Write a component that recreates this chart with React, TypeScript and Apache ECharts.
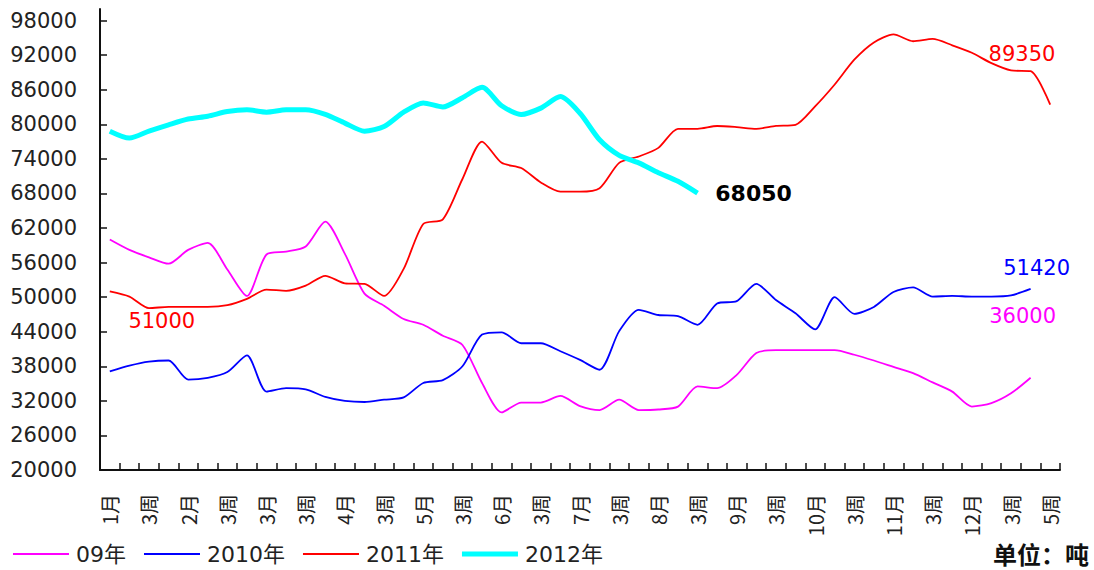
import React, { useEffect, useRef } from "react";
import * as echarts from "echarts";

const categories = [
  "1月", "2周", "3周", "4周", "2月", "2周", "3周", "4周",
  "3月", "2周", "3周", "4周", "4月", "2周", "3周", "4周",
  "5月", "2周", "3周", "4周", "6月", "2周", "3周", "4周",
  "7月", "2周", "3周", "4周", "8月", "2周", "3周", "4周",
  "9月", "2周", "3周", "4周", "10月", "2周", "3周", "4周",
  "11月", "2周", "3周", "4周", "12月", "2周", "3周", "4周", "5周",
];

const yTicks = [20000, 26000, 32000, 38000, 44000, 50000, 56000, 62000, 68000, 74000, 80000, 86000, 92000, 98000];

const seriesNames = ["09年", "2010年", "2011年", "2012年"];

const s2009 = [
  60000, 58200, 56900, 55800, 58200, 59400, 54800, 50200,
  57400, 57900, 58800, 63100, 57500, 50600, 48500, 46200,
  45200, 43300, 41700, 35100, 30000, 31700, 31700, 32850,
  31100, 30400, 32200, 30400, 30500, 31000, 34500, 34200,
  36500, 40300, 40800, 40800, 40800, 40800, 40000, 39000,
  37900, 36800, 35200, 33600, 31000, 31600, 33300, 36000, null,
];

const s2010 = [
  37100, 38100, 38800, 39000, 35700, 36000, 37000, 39900,
  33600, 34200, 34000, 32700, 32000, 31800, 32200, 32600,
  35100, 35600, 38000, 43500, 43900, 42000, 42000, 40600,
  39100, 37400, 44100, 47800, 46900, 46700, 45200, 48900,
  49300, 52300, 49500, 47200, 44400, 50000, 47100, 48300,
  50900, 51700, 50100, 50200, 50100, 50100, 50300, 51420, null,
];

const s2011 = [
  51000, 50100, 48100, 48300, 48300, 48300, 48600, 49700,
  51300, 51100, 52000, 53700, 52400, 52300, 50200, 54900,
  62700, 63500, 70500, 77000, 73300, 72400, 69900, 68300,
  68300, 68900, 73300, 74400, 75900, 79200, 79200, 79700,
  79500, 79200, 79700, 79900, 83100, 86900, 91200, 94200,
  95600, 94400, 94800, 93700, 92400, 90600, 89350, 89200, 83400,
];

const s2012 = [
  78800, 77600, 78800, 79900, 80900, 81400, 82200, 82500,
  82100, 82500, 82500, 81700, 80200, 78800, 79600, 82100,
  83700, 83000, 84600, 86400, 83200, 81700, 82800, 84800,
  81900, 77300, 74600, 73300, 71600, 70100, 68050,
];

const colors = ["#FF00FF", "#0000FF", "#FF0000", "#00FFFF"];

const numFont = "DejaVu Sans";
const cjkFont = "'Noto Sans CJK SC', 'DejaVu Sans', sans-serif";
const legendFont = "'DejaVu Sans', 'Noto Sans CJK SC', sans-serif";

function mark(idx: number, value: number, color: string, offset: number[], bold = false, size = 21) {
  return {
    coord: [idx, value],
    value,
    label: {
      show: true,
      position: "inside",
      offset,
      formatter: "{c}",
      color,
      fontSize: size,
      fontFamily: numFont,
      fontWeight: bold ? "bold" : "normal",
    },
  };
}

export default function App() {
  const ref = useRef<HTMLDivElement>(null);

  useEffect(() => {
    if (!ref.current) return;
    const chart = echarts.init(ref.current, undefined, { renderer: "svg" });
    const lineSeries = (name: string, data: any[], color: string, width: number, marks: any[]) => ({
      name,
      type: "line",
      data,
      smooth: 0.25,
      symbol: "none",
      showSymbol: false,
      connectNulls: false,
      lineStyle: { color, width },
      itemStyle: { color },
      markPoint: {
        symbol: "circle",
        symbolSize: 0,
        silent: true,
        data: marks,
      },
    });

    const thinIcon = "path://M0,0H56V2H0Z";
    const thickIcon = "path://M0,0H56V5H0Z";

    chart.setOption({
      animation: false,
      backgroundColor: "#ffffff",
      grid: { left: 100, right: 34, top: 9, bottom: 100, containLabel: false },
      legend: {
        left: 13,
        top: 543,
        padding: 0,
        itemWidth: 56,
        itemHeight: 14,
        itemGap: 18,
        symbolKeepAspect: true,
        textStyle: { fontSize: 22, lineHeight: 22, fontFamily: legendFont, color: "#222", padding: [0, 0, 0, 2] },
        data: [
          { name: seriesNames[0], icon: thinIcon, itemStyle: { color: colors[0] } },
          { name: seriesNames[1], icon: thinIcon, itemStyle: { color: colors[1] } },
          { name: seriesNames[2], icon: thinIcon, itemStyle: { color: colors[2] } },
          { name: seriesNames[3], icon: thickIcon, itemStyle: { color: colors[3] } },
        ],
      },
      xAxis: {
        type: "category",
        data: categories,
        boundaryGap: true,
        axisLine: { lineStyle: { color: "#111", width: 2 } },
        axisTick: { show: true, inside: true, length: 7, interval: 0, lineStyle: { color: "#111", width: 1.5 } },
        axisLabel: {
          interval: 1,
          rotate: 90,
          margin: 24,
          fontSize: 20,
          fontFamily: cjkFont,
          color: "#222",
        },
        splitLine: { show: false },
      },
      yAxis: {
        type: "value",
        min: 20000,
        max: 100000,
        interval: 6000,
        axisLine: { show: true, lineStyle: { color: "#111", width: 2 } },
        axisTick: { show: true, inside: true, length: 7, customValues: yTicks, lineStyle: { color: "#111", width: 1.5 } },
        axisLabel: {
          customValues: yTicks,
          formatter: (v: number) => String(v),
          margin: 23,
          fontSize: 21,
          fontFamily: numFont,
          color: "#222",
        },
        splitLine: { show: false },
      },
      series: [
        lineSeries(seriesNames[0], s2009, colors[0], 1.8, [mark(47, s2009[47] as number, colors[0], [-8, -62])]),
        lineSeries(seriesNames[1], s2010, colors[1], 1.8, [mark(47, s2010[47] as number, colors[1], [6, -21])]),
        lineSeries(seriesNames[2], s2011, colors[2], 1.8, [
          mark(0, s2011[0], colors[2], [52, 30]),
          mark(46, s2011[46], colors[2], [11, -16]),
        ]),
        lineSeries(seriesNames[3], s2012, colors[3], 5, [mark(30, s2012[30], "#000", [56, 0], true, 22)]),
      ],
      graphic: [
        {
          type: "text",
          x: 1089,
          y: 553,
          style: {
            text: "单位：吨",
            fontSize: 24,
            fontWeight: "bold",
            fontFamily: cjkFont,
            fill: "#111",
            align: "right",
            verticalAlign: "middle",
          },
        },
      ],
    });
    return () => chart.dispose();
  }, []);

  return (
    <div
      ref={ref}
      style={{ position: "absolute", left: 0, top: 0, width: 1094, height: 570, background: "#fff" }}
    />
  );
}
